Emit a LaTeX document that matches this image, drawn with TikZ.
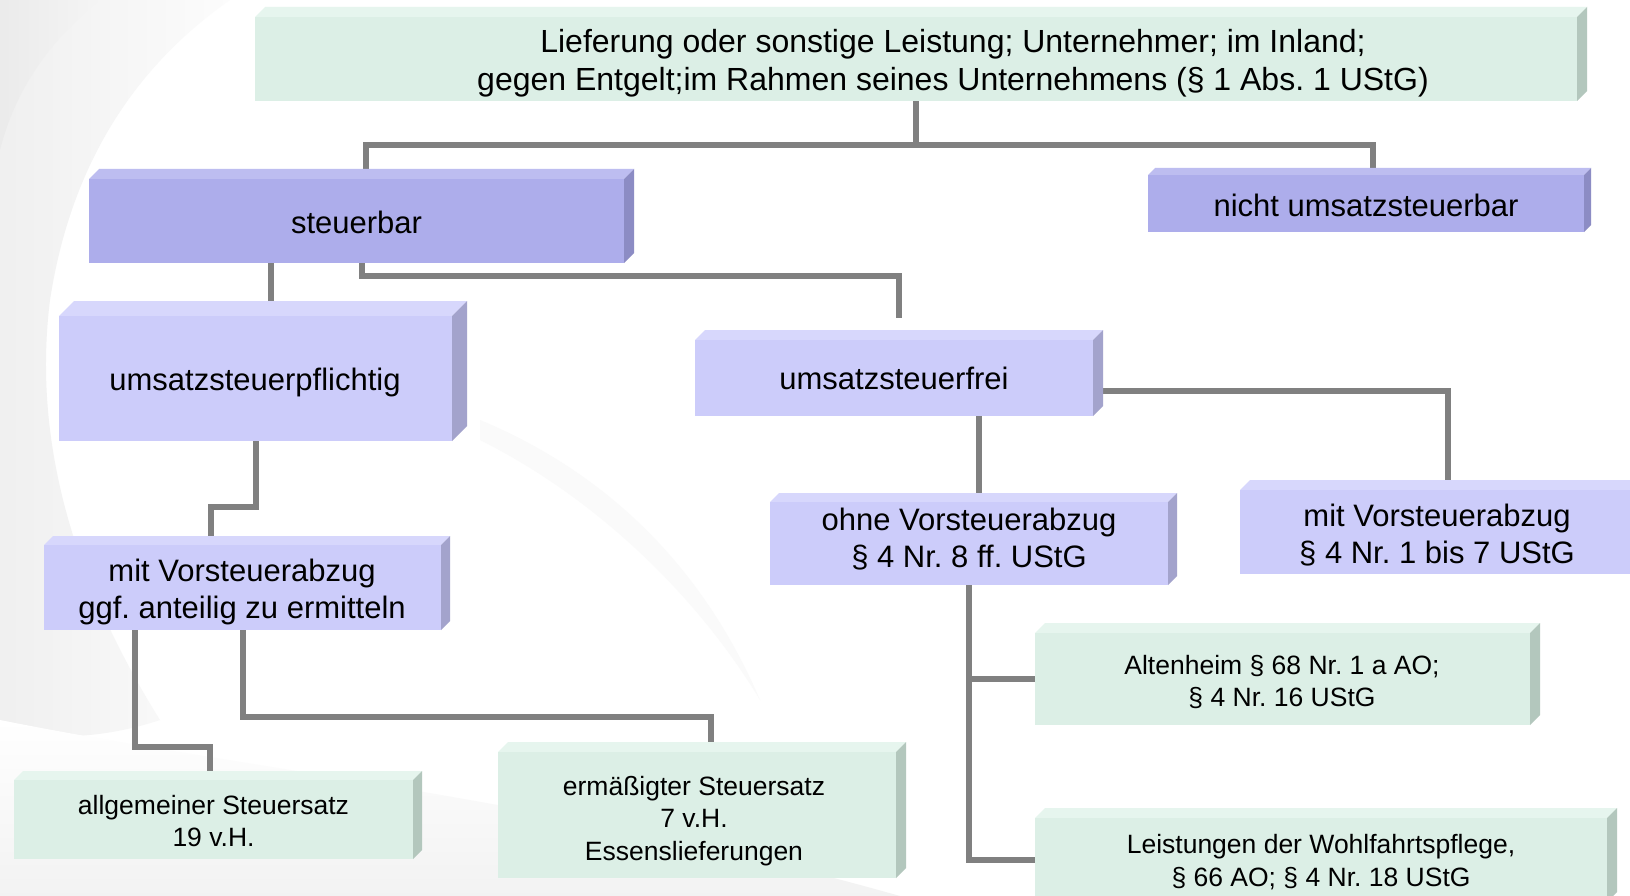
\documentclass[tikz,border=0pt]{standalone}
\usepackage{fontspec}
\setmainfont{Liberation Sans}
\frenchspacing
\pgfdeclarelayer{back}
\pgfdeclarelayer{bg}
\pgfsetlayers{back,bg,main}
\definecolor{gfront}{HTML}{DCEFE6}
\definecolor{gtop}{HTML}{E6F5EE}
\definecolor{gside}{HTML}{B3C7BD}
\definecolor{dfront}{HTML}{ADADEB}
\definecolor{dtop}{HTML}{BDBDF0}
\definecolor{dside}{HTML}{8C8CC4}
\definecolor{lfront}{HTML}{CCCCFA}
\definecolor{ltop}{HTML}{D7D7FC}
\definecolor{lside}{HTML}{A3A3CC}
\definecolor{lineg}{HTML}{808080}
\tikzset{
  conn/.style={draw=lineg, line width=6pt, line cap=butt, line join=miter},
  big/.style={font=\fontsize{31}{37.5}\selectfont, align=center, inner sep=0pt},
  small/.style={font=\fontsize{26.5}{32.2}\selectfont, align=center, inner sep=0pt},
  face/.style={rectangle, inner sep=0pt, outer sep=0pt, draw=none},
}
% name, x1, y1, x2, y2, depth, colour prefix
\newcommand\cubebox[7]{%
  \fill[#7top] (#2,#3) -- (#2+#6,#3-#6) -- (#4+#6,#3-#6) -- (#4,#3) -- cycle;
  \fill[#7side] (#4,#3) -- (#4+#6,#3-#6) -- (#4+#6,#5-#6) -- (#4,#5) -- cycle;
  \node[face, fill=#7front, minimum width={(#4-#2)*1pt}, minimum height={(#5-#3)*1pt}]
    (#1) at ({(#2+#4)/2},{(#3+#5)/2}) {};
}
\begin{document}
\begin{tikzpicture}[x=1pt,y=-1pt]
\useasboundingbox (0,0) rectangle (1630,896);
\clip (0,0) rectangle (1630,896);
\begin{pgfonlayer}{back}
  \fill[white] (0,0) rectangle (1630,896);
  \begin{scope}
    \clip (0,0) -- (230,0) .. controls (130,70) and (70,170) .. (50,300)
       .. controls (35,420) and (60,560) .. (160,720) .. controls (100,740) and (40,740) .. (0,730) -- cycle;
    \shade[left color=black!6, right color=black!1] (0,0) rectangle (240,740);
  \end{scope}
  \begin{scope}
    \clip (0,0) -- (100,0) .. controls (50,40) and (15,90) .. (0,150) -- cycle;
    \shade[left color=black!8, right color=black!4] (0,0) rectangle (100,150);
  \end{scope}
  \begin{scope}
    \clip (0,720) .. controls (250,770) and (560,800) .. (900,896) -- (0,896) -- cycle;
    \shade[top color=white, bottom color=black!5] (0,720) rectangle (900,896);
  \end{scope}
  \fill[black!2] (480,420) .. controls (600,470) and (700,560) .. (760,700)
     .. controls (700,600) and (600,500) .. (480,440) -- cycle;
\end{pgfonlayer}

% boxes
\cubebox{top}{255}{17}{1577}{101}{10}{g}
\cubebox{steuerbar}{89}{179}{624}{263}{10}{d}
\cubebox{nicht}{1148}{175}{1584}{232}{7}{d}
\cubebox{pflichtig}{59}{316}{452}{441}{15}{l}
\cubebox{frei}{695}{340}{1093}{416}{10}{l}
\cubebox{ohne}{770}{502}{1168}{585}{9}{l}
\cubebox{mitr}{1240}{490}{1634}{574}{10}{l}
\cubebox{mitl}{44}{545}{441}{630}{9}{l}
\cubebox{allg}{14}{780}{413}{859}{9}{g}
\cubebox{erm}{498}{752}{896}{878}{10}{g}
\cubebox{alt}{1035}{633}{1530}{725}{10}{g}
\cubebox{leist}{1035}{818}{1607}{902}{10}{g}

% texts
\node[big, font=\fontsize{32}{37.5}\selectfont] (ttop) at (953,63)
  {Lieferung oder sonstige Leistung; Unternehmer; im Inland;\\gegen Entgelt;im Rahmen seines Unternehmens (§ 1 Abs. 1 UStG)};
\node[big] (tsteuerbar) at (356.5,222) {steuerbar};
\node[big] (tnicht) at (1366,205) {nicht umsatzsteuerbar};
\node[big] (tpflichtig) at (255,382) {umsatzsteuerpflichtig};
\node[big] (tfrei) at (894,378) {umsatzsteuerfrei};
\node[big] (tohne) at (969,539) {ohne Vorsteuerabzug\\§ 4 Nr. 8 ff. UStG};
\node[big] (tmitr) at (1437,535) {mit Vorsteuerabzug\\§ 4 Nr. 1 bis 7 UStG};
\node[big] (tmitl) at (242,592) {mit Vorsteuerabzug\\ggf. anteilig zu ermitteln};
\node[small] (tallg) at (213.5,821) {allgemeiner Steuersatz\\19 v.H.};
\node[small] (term) at (694,821) {ermäßigter Steuersatz\\7 v.H.\\Essenslieferungen};
\node[small] (talt) at (1282,682) {Altenheim § 68 Nr. 1 a AO;\\§ 4 Nr. 16 UStG};
\node[small] (tleist) at (1321,862) {Leistungen der Wohlfahrtspflege,\\§ 66 AO; § 4 Nr. 18 UStG};

% connectors
\begin{pgfonlayer}{bg}
\draw[conn] (top.south) -- ++(0,44) -| ([xshift=9.5pt]steuerbar.north);
\draw[conn] (top.south) -- ++(0,44) -| ([xshift=7pt]nicht.north);
\draw[conn] ([xshift=-85.5pt]steuerbar.south) -- ([xshift=15.5pt]pflichtig.north);
\draw[conn] ([xshift=5.5pt]steuerbar.south) -- ++(0,13) -| ([xshift=4.5pt,yshift=22pt]frei.north);
\draw[conn] (pflichtig.south) -- ++(0,66) -| ([xshift=-31.5pt]mitl.north);
\draw[conn] ([xshift=85pt]frei.south) -- ([xshift=10pt]ohne.north);
\draw[conn] ([yshift=-12.5pt]frei.east) -| ([xshift=10.5pt]mitr.north);
\draw[conn] ([xshift=-107.5pt]mitl.south) -- ++(0,117) -| ([xshift=-3.5pt]allg.north);
\draw[conn] (mitl.south) -- ++(0,87) -| ([xshift=14pt]erm.north);
\draw[conn] (ohne.south) |- (leist.west);
\draw[conn] (ohne.south |- alt.west) -- (alt.west);
\end{pgfonlayer}
\end{tikzpicture}
\end{document}
